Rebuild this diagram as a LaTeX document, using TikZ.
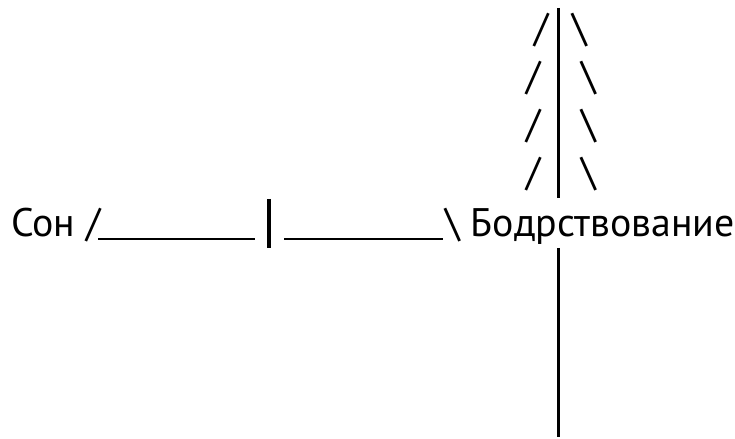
\documentclass[tikz,border=0pt]{standalone}
\usepackage{fontspec}
\setmainfont{PT Sans}
\tikzset{
    txt/.style={inner sep=0pt, font=\fontsize{40}{40}\selectfont},
    stem/.style={line width=3bp},
    bar/.style={line width=3.5bp},
    rule/.style={line width=2bp},
}
\newcommand\Twig[4]{%
    \node[txt, anchor=base] (twl#1) at (#3,#2) {/};%
    \node[txt, anchor=base] (twr#1) at (#4,#2) {\textbackslash};%
}

\begin{document}
\begin{tikzpicture}[x=1bp, y=-1bp]
\useasboundingbox (0,0) rectangle (735,439);
% the stem
\coordinate (stemtop) at (558,8);
\coordinate (stemup) at (558,198);
\coordinate (stemdown) at (558,248);
\coordinate (stembot) at (558,437);
\draw[stem] (stemtop) -- (stemup);
\draw[stem] (stemdown) -- (stembot);
% the twigs
\foreach \yb/\xl/\xr [count=\i] in {42/541.7/580.3, 90/533.3/588.8, 138/533.3/588.8, 186/533.3/588.8} {
    \Twig{\i}{\yb}{\xl}{\xr}
}
% the scale
\node[txt, anchor=base west] (son) at (11,237) {Сон /};
\node[txt, anchor=base west] (wake) at (445,237) {\textbackslash\ Бодрствование};
\coordinate (bartop) at (269,199);
\coordinate (barbot) at (269,248);
\draw[bar] (bartop) -- (barbot);
\coordinate (ula) at (98,239.5);
\coordinate (ulb) at (255,239.5);
\coordinate (ulc) at (284,239.5);
\coordinate (uld) at (443,239.5);
\draw[rule] (ula) -- (ulb);
\draw[rule] (ulc) -- (uld);
\end{tikzpicture}
\end{document}
